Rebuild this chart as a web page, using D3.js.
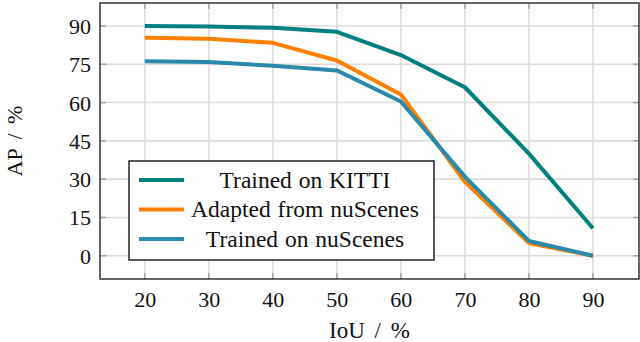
<!DOCTYPE html>
<html>
<head>
<meta charset="utf-8">
<script src="https://cdn.jsdelivr.net/npm/d3@7"></script>
<style>
  body { margin: 0; background: #fff; }
</style>
</head>
<body>
<svg id="chart" width="640" height="342"></svg>
<script>
//data
var iou = [20, 30, 40, 50, 60, 70, 80, 90];
var kitti = [90.0, 89.8, 89.3, 87.7, 78.6, 66.0, 40.0, 10.8];
var adapted = [85.4, 85.0, 83.4, 76.5, 63.2, 29.0, 5.0, 0.0];
var nuscenes = [76.2, 75.9, 74.4, 72.6, 60.4, 31.0, 5.8, 0.0];
var yTicks = [0, 15, 30, 45, 60, 75, 90];
var seriesNames = ['Trained on KITTI', 'Adapted from nuScenes', 'Trained on nuScenes'];
var seriesColors = ['#00807c', '#ff8000', '#2b89aa'];

var FONT = 'Liberation Serif, Times New Roman, Tinos, DejaVu Serif, serif';

//chart parameters
var svg = d3.select('#chart');
var margin = {top: 3, right: 1, bottom: 63, left: 100},
    width = +svg.attr('width') - margin.left - margin.right,
    height = +svg.attr('height') - margin.top - margin.bottom;

//scales
var xScale = d3.scaleLinear().domain([13, 97.2]).range([0, width]),
    yScale = d3.scaleLinear().domain([-9.1, 99]).range([height, 0]);

var canvas = svg.append('g')
    .attr('transform', 'translate(' + margin.left + ',' + margin.top + ')');

//gridlines
canvas.append('g')
    .attr('class', 'grid')
    .selectAll('line').data(iou)
    .enter().append('line')
        .attr('x1', d => xScale(d)).attr('x2', d => xScale(d))
        .attr('y1', 0).attr('y2', height)
        .attr('stroke', '#dcdcdc').attr('stroke-width', 1.6);
canvas.append('g')
    .attr('class', 'grid')
    .selectAll('line').data(yTicks)
    .enter().append('line')
        .attr('x1', 0).attr('x2', width)
        .attr('y1', d => yScale(d)).attr('y2', d => yScale(d))
        .attr('stroke', '#dcdcdc').attr('stroke-width', 1.6);

//inner tick marks on all four sides
var tickLen = 6;
function ticksFor(vals, horizontal, pos, dir) {
    canvas.append('g').selectAll('line').data(vals)
        .enter().append('line')
            .attr('x1', d => horizontal ? xScale(d) : pos)
            .attr('x2', d => horizontal ? xScale(d) : pos + dir * tickLen)
            .attr('y1', d => horizontal ? pos : yScale(d))
            .attr('y2', d => horizontal ? pos + dir * tickLen : yScale(d))
            .attr('stroke', '#a8a8a8').attr('stroke-width', 1.6);
}
ticksFor(iou, true, height, -1);
ticksFor(iou, true, 0, 1);
ticksFor(yTicks, false, 0, 1);
ticksFor(yTicks, false, width, -1);

//axes (labels only, domain drawn as frame)
var xAxis = canvas.append('g')
    .attr('transform', 'translate(0,' + height + ')')
    .call(d3.axisBottom(xScale).tickValues(iou).tickSize(0).tickPadding(12));
var yAxis = canvas.append('g')
    .call(d3.axisLeft(yScale).tickValues(yTicks).tickSize(0).tickPadding(9));
[xAxis, yAxis].forEach(a => {
    a.attr('font-family', FONT).attr('font-size', 22);
    a.select('.domain').remove();
    a.selectAll('text').attr('fill', '#111');
});
xAxis.selectAll('text').attr('dy', '0.71em');
yAxis.selectAll('text').attr('dy', '0.34em');

//lines
var line = d3.line()
    .x((d, i) => xScale(iou[i]))
    .y(d => yScale(d));
[kitti, adapted, nuscenes].forEach((s, k) => {
    canvas.append('path')
        .datum(s)
        .attr('fill', 'none')
        .attr('stroke', seriesColors[k])
        .attr('stroke-width', 4)
        .attr('stroke-linejoin', 'round')
        .attr('d', line);
});

//frame
canvas.append('rect')
    .attr('width', width).attr('height', height)
    .attr('fill', 'none')
    .attr('stroke', '#333').attr('stroke-width', 1.5);

//axis labels
svg.append('text')
    .attr('transform', 'translate(22,' + (margin.top + height / 2) + ') rotate(-90)')
    .attr('text-anchor', 'middle')
    .attr('font-family', FONT).attr('font-size', 22).attr('fill', '#111')
    .attr('word-spacing', 4)
    .text('AP / %');
svg.append('text')
    .attr('x', margin.left + width / 2)
    .attr('y', 338)
    .attr('text-anchor', 'middle')
    .attr('font-family', FONT).attr('font-size', 23).attr('fill', '#111')
    .attr('word-spacing', 4)
    .text('IoU / %');

//legend
var legend = svg.append('g')
    .attr('transform', 'translate(129,161)');
legend.append('rect')
    .attr('width', 305).attr('height', 99)
    .attr('fill', '#fff')
    .attr('stroke', '#222').attr('stroke-width', 1.5);
seriesNames.forEach((n, i) => {
    var yy = 19 + i * 29.5;
    legend.append('line')
        .attr('x1', 10).attr('x2', 55)
        .attr('y1', yy).attr('y2', yy)
        .attr('stroke', seriesColors[i]).attr('stroke-width', 4);
    legend.append('text')
        .attr('x', 176).attr('y', yy)
        .attr('dy', '0.33em')
        .attr('text-anchor', 'middle')
        .attr('font-family', FONT).attr('font-size', 23.5).attr('fill', '#111')
        .attr('word-spacing', 1)
        .text(n);
});
</script>
</body>
</html>
